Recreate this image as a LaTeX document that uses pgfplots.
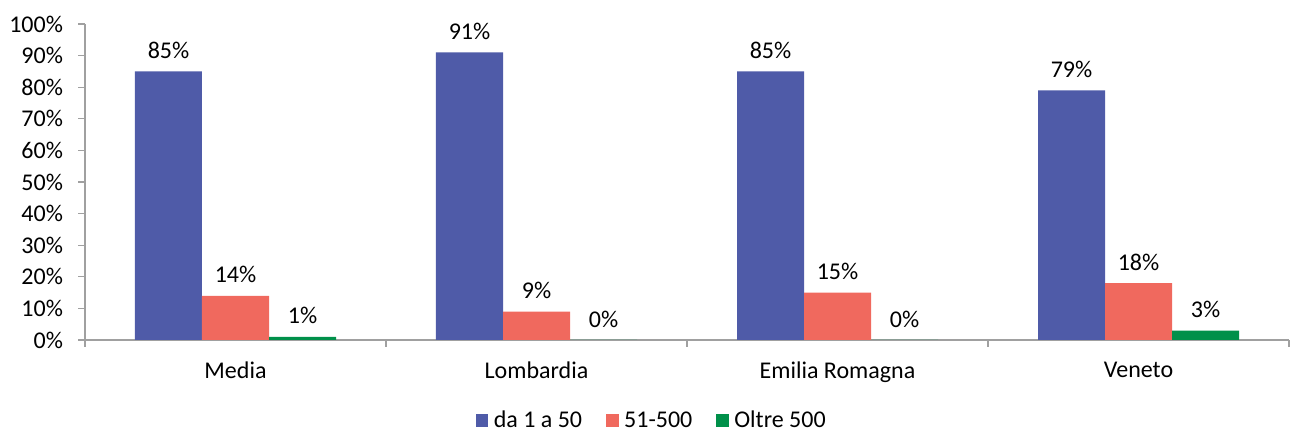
\documentclass[border=0pt]{standalone}
\usepackage{pgfplots}
\pgfplotsset{compat=1.18}
\usepackage{fontspec}
\setmainfont{Carlito}
\definecolor{sblue}{RGB}{79,91,168}
\definecolor{sred}{RGB}{240,105,94}
\definecolor{sgreen}{RGB}{0,144,74}
\definecolor{axgray}{RGB}{160,160,160}

\begin{document}
\begin{tikzpicture}[x=1pt,y=1pt]
% page = 1292x434 px, 1px = 0.75pt; axis box 1204x316 px
\path[use as bounding box] (-63.75,-70.5) rectangle (905.25,255);
\begin{axis}[
    scale only axis,
    width=903pt, height=237pt,
    font=\fontsize{18}{21}\selectfont,
    /pgf/number format/assume math mode=true,
    ymin=0, ymax=100,
    ytick={0,10,...,100},
    yticklabel={\pgfmathprintnumber{\tick}\%},
    xmin=-0.5, xmax=3.5,
    xtick={0,1,2,3},
    xticklabels={Media,Lombardia,Emilia Romagna,Veneto},
    minor xtick={-0.5,0.5,1.5,2.5,3.5},
    axis x line*=bottom,
    axis y line*=left,
    axis line style={axgray,line width=0.8pt},
    tick style={axgray,line width=0.8pt},
    major x tick style={draw=none},
    tick align=outside,
    major tick length=5pt,
    minor tick length=5pt,
    xticklabel style={yshift=-8pt},
    yticklabel style={xshift=-8pt},
    ybar,
    bar width=0.2226,
    point meta=y,
    nodes near coords={\pgfmathprintnumber{\pgfplotspointmeta}\%},
    every node near coord/.append style={font=\fontsize{18}{21}\selectfont, black, yshift=6pt},
    legend style={draw=none, at={(0.471,-0.255)}, anchor=center,
        legend columns=3, font=\fontsize{18}{21}\selectfont,
        /tikz/every odd column/.append style={column sep=2pt},
        /tikz/every even column/.append style={column sep=16pt}},
    legend image code/.code={\fill[#1] (0pt,-4.5pt) rectangle (9.5pt,5pt);},
]
\addplot[fill=sblue, draw=none, bar shift=-0.2226] coordinates {(0,85) (1,91) (2,85) (3,79)};
\addplot[fill=sred, draw=none, bar shift=0] coordinates {(0,14) (1,9) (2,15) (3,18)};
\addplot[fill=sgreen, draw=none, bar shift=0.2226] coordinates {(0,1) (1,0) (2,0) (3,3)};
\legend{da 1 a 50, 51-500, Oltre 500}
\end{axis}
\end{tikzpicture}
\end{document}
